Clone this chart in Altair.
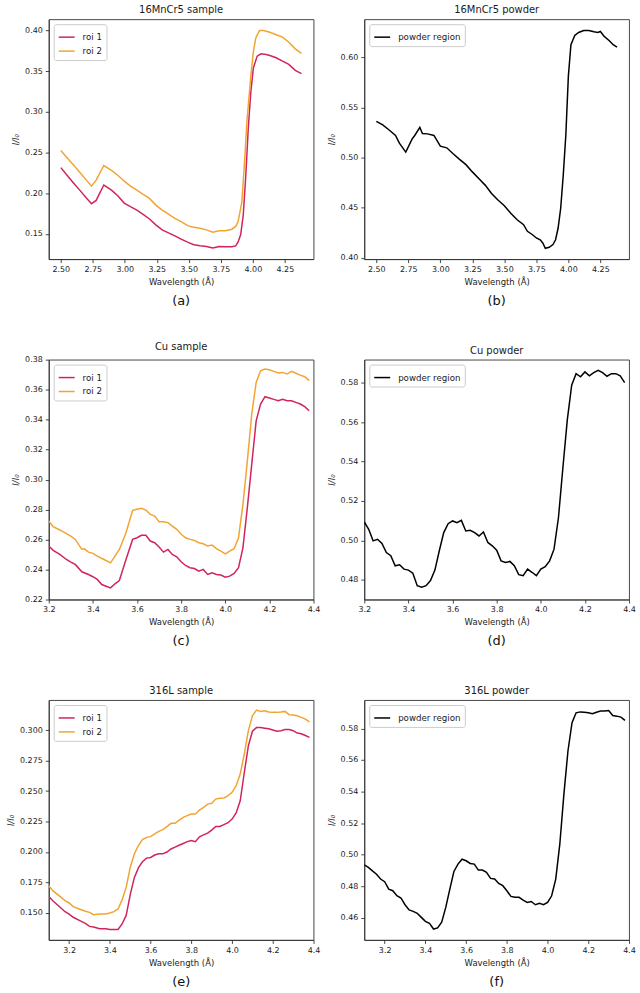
import altair as alt
import pandas as pd

FONT = "DejaVu Sans"
ROI_COLORS = ["#d1245a", "#f2a431"]
W, H = 266, 241

panel_titles = ["16MnCr5 sample", "16MnCr5 powder", "Cu sample", "Cu powder",
                "316L sample", "316L powder"]
panel_letters = ["(a)", "(b)", "(c)", "(d)", "(e)", "(f)"]

# ---------- (a) 16MnCr5 sample ----------
a_roi1_x = [2.50, 2.549, 2.599, 2.648, 2.698, 2.740, 2.776, 2.836, 2.896, 2.945,
            2.995, 3.044, 3.094, 3.143, 3.193, 3.242, 3.292, 3.341, 3.391, 3.440,
            3.490, 3.539, 3.588, 3.638, 3.687, 3.737, 3.786, 3.836, 3.866, 3.885,
            3.905, 3.925, 3.945, 3.964, 3.984, 4.004, 4.034, 4.064, 4.104, 4.133,
            4.182, 4.232, 4.281, 4.331, 4.380]
a_roi1_y = [0.2314, 0.2220, 0.2126, 0.2037, 0.1943, 0.1870, 0.1910, 0.2100, 0.2037, 0.1967,
            0.1878, 0.1833, 0.1792, 0.1739, 0.1682, 0.1609, 0.1548, 0.1511, 0.1475, 0.1434,
            0.1397, 0.1365, 0.1352, 0.1344, 0.1324, 0.1344, 0.1340, 0.1340, 0.1350, 0.1400,
            0.1490, 0.1730, 0.2220, 0.2790, 0.3240, 0.3540, 0.3686, 0.3715, 0.3707, 0.3694,
            0.3666, 0.3625, 0.3585, 0.3511, 0.3470]
a_roi2_x = [2.50, 2.549, 2.599, 2.648, 2.698, 2.740, 2.776, 2.836, 2.896, 2.945,
            2.995, 3.044, 3.094, 3.143, 3.193, 3.242, 3.292, 3.341, 3.391, 3.440,
            3.490, 3.539, 3.588, 3.638, 3.687, 3.737, 3.786, 3.836, 3.866, 3.885,
            3.914, 3.935, 3.953, 3.984, 4.003, 4.023, 4.052, 4.083, 4.133, 4.182,
            4.232, 4.281, 4.331, 4.380]
a_roi2_y = [0.2525, 0.2436, 0.2346, 0.2257, 0.2163, 0.2086, 0.2160, 0.2340, 0.2280, 0.2220,
            0.2147, 0.2086, 0.2037, 0.1984, 0.1935, 0.1853, 0.1792, 0.1743, 0.1690, 0.1650,
            0.1600, 0.1580, 0.1568, 0.1548, 0.1520, 0.1536, 0.1536, 0.1556, 0.1590, 0.1650,
            0.1890, 0.2380, 0.2870, 0.3440, 0.3727, 0.3910, 0.4000, 0.4000, 0.3980, 0.3950,
            0.3920, 0.3857, 0.3776, 0.3719]

# ---------- (b) 16MnCr5 powder ----------
b_x = [2.50, 2.55, 2.60, 2.65, 2.68, 2.73, 2.78, 2.80, 2.84, 2.86,
       2.90, 2.95, 3.00, 3.05, 3.10, 3.15, 3.20, 3.25, 3.30, 3.35,
       3.40, 3.45, 3.50, 3.55, 3.60, 3.65, 3.68, 3.72, 3.75, 3.78,
       3.80, 3.82, 3.85, 3.88, 3.90, 3.92, 3.94, 3.96, 3.98, 4.00,
       4.02, 4.05, 4.08, 4.12, 4.16, 4.20, 4.23, 4.25, 4.28, 4.32,
       4.35, 4.38]
b_y = [0.5360, 0.5325, 0.5275, 0.5220, 0.5143, 0.5054, 0.5186, 0.5220, 0.5300, 0.5240,
       0.5236, 0.5220, 0.5114, 0.5097, 0.5038, 0.4982, 0.4929, 0.4857, 0.4791, 0.4725,
       0.4642, 0.4577, 0.4520, 0.4445, 0.4379, 0.4330, 0.4264, 0.4230, 0.4198, 0.4180,
       0.4148, 0.4095, 0.4105, 0.4132, 0.4180, 0.4297, 0.4494, 0.4824, 0.5220, 0.5812,
       0.6125, 0.6217, 0.6247, 0.6267, 0.6267, 0.6254, 0.6247, 0.6257, 0.6208, 0.6165,
       0.6125, 0.6100]

# shared fine wavelength steps for the Cu / 316L scans
wl_tail = [3.60, 3.62, 3.64, 3.66, 3.68, 3.70, 3.72, 3.74, 3.76, 3.78,
           3.80, 3.82, 3.84, 3.86, 3.88, 3.90, 3.92, 3.94, 3.96, 3.98,
           4.00, 4.02, 4.04, 4.06, 4.08, 4.10, 4.12, 4.14, 4.16, 4.18,
           4.20, 4.22, 4.24, 4.26, 4.28, 4.30, 4.32, 4.34, 4.36, 4.38]

# ---------- (c) Cu sample ----------
c_roi1_x = [3.20, 3.22, 3.25, 3.28, 3.30, 3.32, 3.35, 3.38, 3.40, 3.42,
            3.44, 3.46, 3.48, 3.50, 3.52, 3.55, 3.58] + wl_tail
c_roi1_y = [0.2557, 0.2528, 0.2501, 0.2467, 0.2450, 0.2434, 0.2385, 0.2367, 0.2352, 0.2334,
            0.2300, 0.2289, 0.2278, 0.2305, 0.2327, 0.2467, 0.2601,
            0.2612, 0.2628, 0.2628, 0.2590, 0.2579, 0.2550, 0.2516, 0.2534, 0.2501, 0.2485,
            0.2452, 0.2427, 0.2412, 0.2407, 0.2389, 0.2401, 0.2367, 0.2378, 0.2367, 0.2363,
            0.2349, 0.2356, 0.2374, 0.2412, 0.2545, 0.2813, 0.3103, 0.3392, 0.3504, 0.3553,
            0.3544, 0.3535, 0.3526, 0.3535, 0.3526, 0.3526, 0.3515, 0.3504, 0.3486, 0.3459]
c_roi2_x = [3.20, 3.22, 3.25, 3.30, 3.32, 3.35, 3.36, 3.38, 3.40, 3.42,
            3.45, 3.48, 3.50, 3.52, 3.55, 3.58] + wl_tail
c_roi2_y = [0.2724, 0.2686, 0.2664, 0.2623, 0.2601, 0.2534, 0.2540, 0.2516, 0.2508, 0.2490,
            0.2467, 0.2445, 0.2490, 0.2534, 0.2646, 0.2795,
            0.2802, 0.2808, 0.2797, 0.2768, 0.2757, 0.2719, 0.2719, 0.2713, 0.2690, 0.2668,
            0.2635, 0.2612, 0.2601, 0.2594, 0.2579, 0.2572, 0.2557, 0.2563, 0.2539, 0.2523,
            0.2505, 0.2523, 0.2539, 0.2612, 0.2835, 0.3125, 0.3437, 0.3648, 0.3726, 0.3738,
            0.3733, 0.3722, 0.3711, 0.3715, 0.3704, 0.3722, 0.3709, 0.3697, 0.3686, 0.3660]

# ---------- (d) Cu powder ----------
d_x = [3.20, 3.22, 3.24, 3.26, 3.28, 3.30, 3.32, 3.34, 3.36, 3.38,
       3.40, 3.42, 3.44, 3.46, 3.48, 3.50, 3.52, 3.54, 3.56, 3.58] + wl_tail
d_y = [0.5094, 0.5057, 0.4998, 0.5006, 0.4985, 0.4939, 0.4923, 0.4872, 0.4877, 0.4855,
       0.4850, 0.4834, 0.4771, 0.4763, 0.4771, 0.4797, 0.4850, 0.4948, 0.5040, 0.5085,
       0.5099, 0.5090, 0.5102, 0.5048, 0.5052, 0.5040, 0.5023, 0.5043, 0.4990, 0.4973,
       0.4951, 0.4897, 0.4889, 0.4894, 0.4872, 0.4827, 0.4822, 0.4855, 0.4839, 0.4822,
       0.4855, 0.4867, 0.4897, 0.4956, 0.5115, 0.5367, 0.5610, 0.5787, 0.5845, 0.5829,
       0.5854, 0.5834, 0.5850, 0.5862, 0.5850, 0.5832, 0.5845, 0.5845, 0.5834, 0.5800]

# ---------- (e) 316L sample ----------
e_x = [3.10, 3.12, 3.15, 3.18, 3.20, 3.22, 3.25, 3.28, 3.30, 3.32,
       3.35, 3.38, 3.40, 3.42, 3.44, 3.46, 3.48, 3.50, 3.52, 3.54,
       3.56, 3.58] + wl_tail
e_roi1_y = [0.1635, 0.1600, 0.1555, 0.1510, 0.1490, 0.1465, 0.1440, 0.1415, 0.1390, 0.1385,
            0.1370, 0.1370, 0.1365, 0.1365, 0.1365, 0.1410, 0.1480, 0.1650, 0.1790, 0.1870,
            0.1920, 0.1950,
            0.1955, 0.1975, 0.1985, 0.1985, 0.2000, 0.2025, 0.2040, 0.2055, 0.2070, 0.2085,
            0.2095, 0.2085, 0.2125, 0.2140, 0.2155, 0.2180, 0.2210, 0.2210, 0.2225, 0.2240,
            0.2270, 0.2320, 0.2420, 0.2650, 0.2870, 0.2990, 0.3020, 0.3020, 0.3015, 0.3010,
            0.3000, 0.2990, 0.2995, 0.3005, 0.3005, 0.2995, 0.2975, 0.2970, 0.2955, 0.2940]
e_roi2_y = [0.1724, 0.1683, 0.1642, 0.1601, 0.1582, 0.1552, 0.1533, 0.1514, 0.1505, 0.1486,
            0.1492, 0.1492, 0.1500, 0.1511, 0.1533, 0.1607, 0.1710, 0.1874, 0.1984, 0.2052,
            0.2101, 0.2120,
            0.2126, 0.2148, 0.2169, 0.2183, 0.2208, 0.2235, 0.2235, 0.2262, 0.2284, 0.2298,
            0.2311, 0.2311, 0.2344, 0.2366, 0.2393, 0.2399, 0.2434, 0.2440, 0.2443, 0.2462,
            0.2489, 0.2544, 0.2639, 0.2803, 0.2995, 0.3117, 0.3164, 0.3153, 0.3158, 0.3148,
            0.3145, 0.3145, 0.3148, 0.3153, 0.3126, 0.3123, 0.3117, 0.3104, 0.3090, 0.3068]

# ---------- (f) 316L powder ----------
f_x = [3.10, 3.12, 3.14, 3.16, 3.18, 3.20, 3.22, 3.24, 3.26, 3.28,
       3.30, 3.32, 3.34, 3.36, 3.38, 3.40, 3.42, 3.44, 3.46, 3.48,
       3.50, 3.52, 3.54, 3.56, 3.58] + wl_tail
f_y = [0.4935, 0.4919, 0.4897, 0.4876, 0.4845, 0.4828, 0.4781, 0.4771, 0.4739, 0.4725,
       0.4682, 0.4649, 0.4640, 0.4628, 0.4602, 0.4577, 0.4564, 0.4528, 0.4535, 0.4571,
       0.4665, 0.4781, 0.4893, 0.4940, 0.4971,
       0.4961, 0.4944, 0.4940, 0.4902, 0.4902, 0.4887, 0.4849, 0.4845, 0.4817, 0.4803,
       0.4771, 0.4735, 0.4729, 0.4729, 0.4712, 0.4697, 0.4703, 0.4682, 0.4691, 0.4682,
       0.4697, 0.4739, 0.4845, 0.5066, 0.5382, 0.5657, 0.5836, 0.5899, 0.5905, 0.5903,
       0.5899, 0.5893, 0.5903, 0.5910, 0.5910, 0.5914, 0.5882, 0.5878, 0.5872, 0.5851]

# axis ticks
ticks_x_wide = [2.50, 2.75, 3.00, 3.25, 3.50, 3.75, 4.00, 4.25]
ticks_x_narrow = [3.2, 3.4, 3.6, 3.8, 4.0, 4.2, 4.4]
ticks_y = {
    "a": [0.15, 0.20, 0.25, 0.30, 0.35, 0.40],
    "b": [0.40, 0.45, 0.50, 0.55, 0.60],
    "c": [0.22, 0.24, 0.26, 0.28, 0.30, 0.32, 0.34, 0.36, 0.38],
    "d": [0.48, 0.50, 0.52, 0.54, 0.56, 0.58],
    "e": [0.150, 0.175, 0.200, 0.225, 0.250, 0.275, 0.300],
    "f": [0.46, 0.48, 0.50, 0.52, 0.54, 0.56, 0.58],
}


def frame(series):
    parts = [pd.DataFrame({"wl": x, "val": y, "series": name}) for name, x, y in series]
    return pd.concat(parts, ignore_index=True)


def panel(idx, series, names, colors, xdom, xticks, xfmt, ydom, yticks, yfmt):
    df = frame(series)
    legend = alt.Legend(
        title=None, orient="top-left", offset=5, symbolType="stroke",
        symbolStrokeWidth=1.5, symbolSize=256, labelFontSize=8.7, labelFont=FONT,
        labelColor="#1a1a1a", labelOffset=7, strokeColor="#cccccc", fillColor="white",
        padding=4, cornerRadius=2, rowPadding=0,
    )
    lines = alt.Chart(df).mark_line(strokeWidth=1.5, clip=True).encode(
        x=alt.X("wl:Q", scale=alt.Scale(domain=xdom, nice=False, zero=False),
                axis=alt.Axis(values=xticks, format=xfmt, title="Wavelength (Å)",
                              labelFlush=False, labelOverlap=False)),
        y=alt.Y("val:Q", scale=alt.Scale(domain=ydom, nice=False, zero=False),
                axis=alt.Axis(values=yticks, format=yfmt, title="I/I₀",
                              titleFontStyle="italic", labelFlush=False,
                              labelOverlap=False)),
        color=alt.Color("series:N", scale=alt.Scale(domain=names, range=colors),
                        legend=legend),
        order=alt.Order("wl:Q"),
    )
    letter = alt.Chart(pd.DataFrame({"letter": [panel_letters[idx]]})).mark_text(
        font=FONT, fontSize=13, color="#111111", baseline="middle", align="center"
    ).encode(text="letter:N", x=alt.value(W / 2), y=alt.value(H + 42))
    return alt.layer(lines, letter).properties(
        width=W, height=H,
        title=alt.TitleParams(panel_titles[idx], font=FONT, fontSize=10,
                              fontWeight="normal", offset=4, color="#1a1a1a"),
    )


ROI = ["roi 1", "roi 2"]
POWDER = ["powder region"]
dom_x_wide = [2.406, 4.474]

panels = [
    panel(0, [("roi 1", a_roi1_x, a_roi1_y), ("roi 2", a_roi2_x, a_roi2_y)], ROI, ROI_COLORS,
          dom_x_wide, ticks_x_wide, ".2f", [0.1188, 0.4140], ticks_y["a"], ".2f"),
    panel(1, [("powder region", b_x, b_y)], POWDER, ["#000000"],
          dom_x_wide, ticks_x_wide, ".2f", [0.3987, 0.6379], ticks_y["b"], ".2f"),
    panel(2, [("roi 1", c_roi1_x, c_roi1_y), ("roi 2", c_roi2_x, c_roi2_y)], ROI, ROI_COLORS,
          [3.2, 4.4], ticks_x_narrow, ".1f", [0.22, 0.38], ticks_y["c"], ".2f"),
    panel(3, [("powder region", d_x, d_y)], POWDER, ["#000000"],
          [3.2, 4.4], ticks_x_narrow, ".1f", [0.4701, 0.5916], ticks_y["d"], ".2f"),
    panel(4, [("roi 1", e_x, e_roi1_y), ("roi 2", e_x, e_roi2_y)], ROI, ROI_COLORS,
          [3.1, 4.4], ticks_x_narrow, ".1f", [0.1279, 0.3246], ticks_y["e"], ".3f"),
    panel(5, [("powder region", f_x, f_y)], POWDER, ["#000000"],
          [3.1, 4.4], ticks_x_narrow, ".1f", [0.4459, 0.5980], ticks_y["f"], ".2f"),
]

chart = alt.concat(
    *panels, columns=2, spacing={"row": 101, "column": 51}, bounds="flush"
).resolve_scale(
    color="independent", x="independent", y="independent"
).resolve_legend(
    color="independent"
).properties(
    padding={"left": 6, "top": 2, "right": 4, "bottom": 4}
).configure_view(
    stroke="#333333", strokeWidth=0.9
).configure_axis(
    labelFont=FONT, titleFont=FONT, labelFontSize=8, titleFontSize=8.5,
    titleFontWeight="normal",
    labelColor="#1a1a1a", titleColor="#1a1a1a", tickColor="#333333",
    domainColor="#333333", domainWidth=0.9, tickWidth=0.9, tickSize=3.5,
    labelPadding=3, titlePadding=4, grid=False,
)

chart.save("out.html", embed_options={"renderer": "svg", "actions": False})
